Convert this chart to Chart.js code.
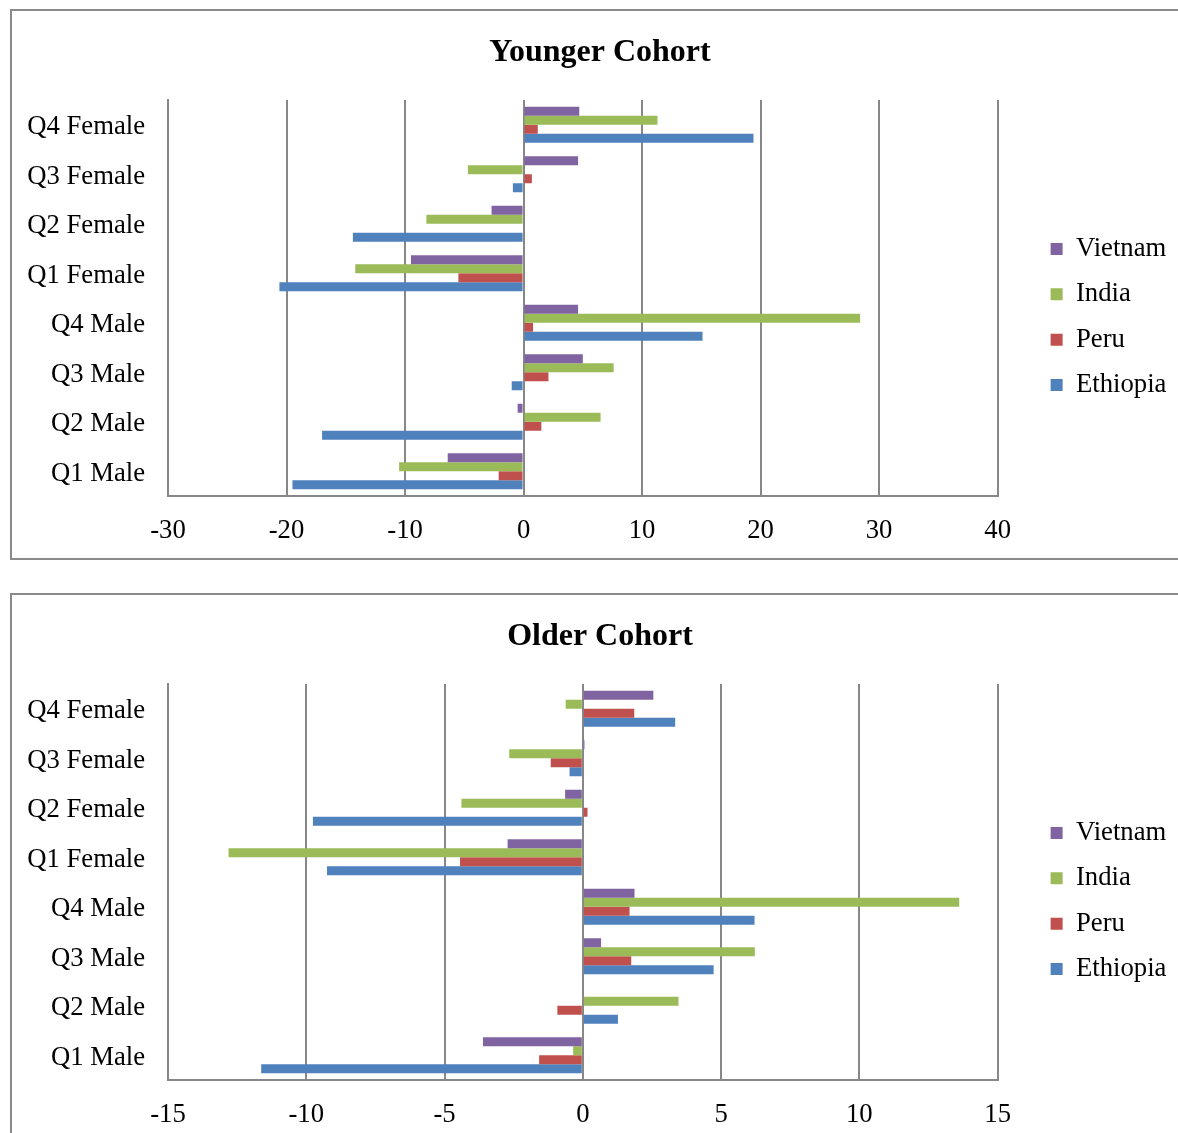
<!DOCTYPE html>
<html><head><meta charset="utf-8">
<script src="https://cdn.jsdelivr.net/npm/chart.js@4.4.1/dist/chart.umd.min.js"></script>
<style>
html,body{margin:0;padding:0;background:#fff;overflow:hidden;width:1178px;height:1133px;position:relative;}
.box{position:absolute;left:10px;width:1200px;border:2px solid #8a8a8a;box-sizing:border-box;}
#box1{top:9px;height:551px;}
#box2{top:593px;height:600px;}
canvas{position:absolute;left:0;}
#c1{top:0;}
#c2{top:584px;}
</style></head><body>
<div class="box" id="box1"></div>
<div class="box" id="box2"></div>
<canvas id="c1" width="1178" height="580"></canvas>
<canvas id="c2" width="1178" height="580"></canvas>
<script>
// ---- data ----
const categories = ['Q4 Female','Q3 Female','Q2 Female','Q1 Female','Q4 Male','Q3 Male','Q2 Male','Q1 Male'];
const seriesNames = ['Vietnam','India','Peru','Ethiopia'];
const seriesColors = ['#8064A2','#9BBB59','#C0504D','#4F81BD'];

const youngerTitle = 'Younger Cohort';
const youngerVietnam  = [4.7, 4.6, -2.7, -9.5, 4.6, 5.0, -0.5, -6.4];
const youngerIndia    = [11.3, -4.7, -8.2, -14.2, 28.4, 7.6, 6.5, -10.5];
const youngerPeru     = [1.2, 0.7, 0, -5.5, 0.8, 2.1, 1.5, -2.1];
const youngerEthiopia = [19.4, -0.9, -14.4, -20.6, 15.1, -1.0, -17.0, -19.5];
const youngerTicks = [-30, -20, -10, 0, 10, 20, 30, 40];

const olderTitle = 'Older Cohort';
const olderVietnam  = [2.55, 0.06, -0.64, -2.72, 1.87, 0.66, 0, -3.61];
const olderIndia    = [-0.62, -2.66, -4.39, -12.81, 13.61, 6.22, 3.46, -0.35];
const olderPeru     = [1.86, -1.16, 0.17, -4.44, 1.69, 1.75, -0.92, -1.58];
const olderEthiopia = [3.34, -0.48, -9.76, -9.25, 6.21, 4.73, 1.27, -11.63];
const olderTicks = [-15, -10, -5, 0, 5, 10, 15];

// ---- style ----
const FONT = '"Liberation Serif", "Times New Roman", serif';
const GRID = '#878787';
const LEGEND_GAP = 53;
const LEGEND_SHIFT_Y = 27;
const TITLE_CENTER_X = 600;

const boxPlacement = {
  id: 'boxPlacement',
  afterLayout(chart) {
    const L = chart.legend;
    if (L) {
      const pad = L.options.labels.padding;
      const w = L.right - L.left;
      L.left = chart.chartArea.right + LEGEND_GAP - pad;
      L.right = L.left + w;
      L.top += LEGEND_SHIFT_Y;
      L.bottom += LEGEND_SHIFT_Y;
    }
    const T = chart.titleBlock;
    if (T) {
      const shift = TITLE_CENTER_X - (T.left + T.right) / 2;
      T.left += shift;
      T.right += shift;
    }
  }
};

function makeChart(id, title, series, ticks) {
  const step = ticks[1] - ticks[0];
  return new Chart(document.getElementById(id), {
    type: 'bar',
    data: {
      labels: categories,
      datasets: series.map((vals, i) => ({
        label: seriesNames[i],
        data: vals,
        backgroundColor: seriesColors[i],
        borderWidth: 0,
        categoryPercentage: 0.727,
        barPercentage: 1.0
      }))
    },
    options: {
      indexAxis: 'y',
      responsive: false,
      animation: false,
      devicePixelRatio: 1,
      layout: { padding: { left: 0, right: 36, top: 0, bottom: 0 } },
      plugins: {
        title: {
          display: true, text: title, color: '#000',
          font: { family: FONT, size: 32, weight: 'bold' },
          padding: { top: 33.8, bottom: 27.8 }
        },
        legend: {
          position: 'right',
          labels: {
            color: '#000', font: { family: FONT, size: 26.7 },
            boxWidth: 12, boxHeight: 12, padding: 18.6
          }
        },
        tooltip: { enabled: false }
      },
      scales: {
        x: {
          min: ticks[0], max: ticks[ticks.length - 1],
          ticks: { stepSize: step, color: '#000', font: { family: FONT, size: 26.7 }, padding: 19 },
          grid: { color: GRID, lineWidth: 2, drawTicks: false },
          border: { color: GRID, width: 2 },
          afterFit(s) { s.height = 84; }
        },
        y: {
          ticks: { color: '#000', font: { family: FONT, size: 26.7 }, padding: 23, labelOffset: 2.5 },
          grid: { display: false, drawTicks: false },
          border: { color: GRID, width: 2 },
          afterFit(s) { s.width = 168; }
        }
      }
    },
    plugins: [boxPlacement]
  });
}

makeChart('c1', youngerTitle, [youngerVietnam, youngerIndia, youngerPeru, youngerEthiopia], youngerTicks);
makeChart('c2', olderTitle, [olderVietnam, olderIndia, olderPeru, olderEthiopia], olderTicks);
</script>
</body></html>
